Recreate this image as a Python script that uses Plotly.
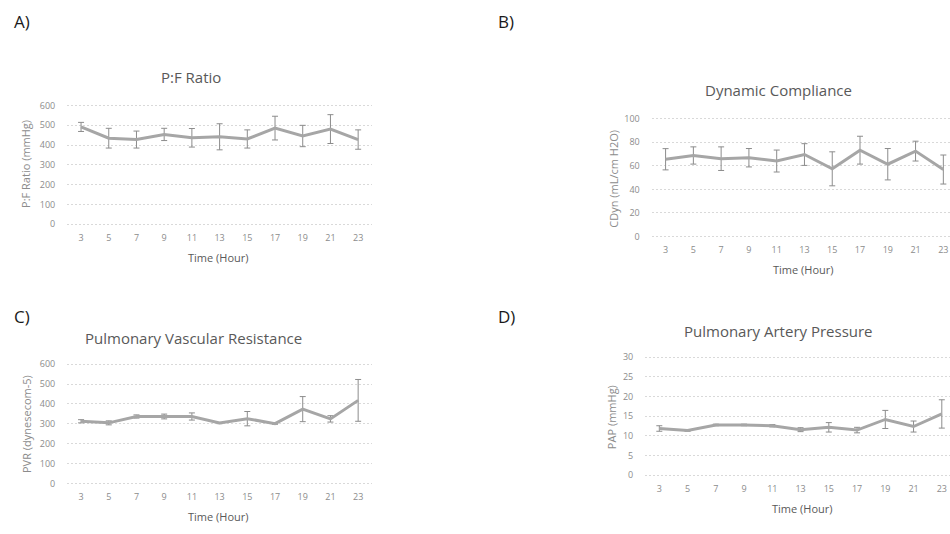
import plotly.graph_objects as go

W, H = 950, 534

hours = ["3", "5", "7", "9", "11", "13", "15", "17", "19", "21", "23"]

pf_mean = [492, 435, 428, 454, 437, 442, 431, 486, 446, 481, 428]
pf_err = [23, 50, 43, 31, 47, 66, 46, 60, 54, 73, 49]

cdyn_mean = [65.5, 68.7, 66.0, 66.8, 64.0, 69.5, 57.4, 73.2, 61.3, 72.4, 56.8]
cdyn_err = [9.0, 7.3, 10.0, 7.8, 9.3, 9.2, 14.4, 11.8, 13.3, 8.4, 12.3]

pvr_mean = [313, 305, 337, 337, 337, 304, 326, 301, 374, 325, 418]
pvr_err = [8, 10, 8, 12, 18, 3, 36, 3, 63, 16, 105]

pap_mean = [11.9, 11.4, 12.8, 12.8, 12.6, 11.6, 12.2, 11.5, 14.2, 12.4, 15.6]
pap_err = [0.7, 0.2, 0.2, 0.2, 0.3, 0.5, 1.2, 0.7, 2.3, 1.4, 3.6]

titles = ["P:F Ratio", "Dynamic Compliance", "Pulmonary Vascular Resistance", "Pulmonary Artery Pressure"]
ytitles = ["P:F Ratio (mmHg)", "CDyn (mL/cm H2O)", "PVR (dynesecom-5)", "PAP (mmHg)"]
xtitle = "Time (Hour)"
panel_labels = ["A)", "B)", "C)", "D)"]

FONT = "Open Sans"
LINE_C = "#a6a6a6"
ERR_C = "#8c8c8c"
GRID_C = "#d9d9d9"
TICK_C = "#8c8c8c"
TITLE_C = "#595959"

# panel geometry in pixels: (left, right, top, bottom, xrange_end, ymax, dtick)
panels = [
    (67.2, 372.0, 102.5, 223.3, 10.5, 600, 100),
    (651.7, 950.0, 115.7, 236.0, 10.24, 100, 20),
    (67.2, 372.0, 366.0, 487.7, 10.5, 600, 100),
    (645.2, 950.0, 359.0, 479.3, 10.29, 30, 5),
]
means = [pf_mean, cdyn_mean, pvr_mean, pap_mean]
errs = [pf_err, cdyn_err, pvr_err, pap_err]

# text positions in pixels
title_pos = [(191, 73), (778, 87), (193, 339), (778, 332)]
ytitle_pos = [(26, 162), (614, 177), (26, 427), (611, 420)]
xtitle_pos = [(218, 257.5), (803, 270), (218, 521.5), (802, 513.5)]
label_pos = [(22, 17), (506, 17), (22, 317), (506, 317)]

fig = go.Figure()
annotations = []

def px(x):
    return x / W

def py(y):
    return 1 - y / H

EXT = 0.012  # small range extension so the end gridlines are drawn

for i in range(4):
    l, r, t, b, xend, ymax, dt = panels[i]
    ext_px = EXT * (b - t)
    xa = "x" if i == 0 else f"x{i+1}"
    ya = "y" if i == 0 else f"y{i+1}"
    fig.add_trace(go.Scatter(
        x=hours, y=means[i], mode="lines",
        line=dict(color=LINE_C, width=3),
        error_y=dict(type="data", array=errs[i], visible=True, color=ERR_C, thickness=1, width=3),
        xaxis=xa, yaxis=ya, showlegend=False, hoverinfo="skip",
    ))
    xkey = "xaxis" if i == 0 else f"xaxis{i+1}"
    ykey = "yaxis" if i == 0 else f"yaxis{i+1}"
    fig.layout[xkey] = dict(
        domain=[px(l), min(1.0, px(r))], anchor=ya, type="category",
        range=[-0.5, xend], showgrid=False, zeroline=False, showline=False,
        ticks="", tickfont=dict(family=FONT, size=9, color=TICK_C),
        ticklabelstandoff=5, ticklabeloverflow="allow", fixedrange=True,
    )
    fig.layout[ykey] = dict(
        domain=[py(b + ext_px), py(t - ext_px)], anchor=xa,
        range=[-EXT * ymax, (1 + EXT) * ymax], dtick=dt, tick0=0,
        showgrid=True, gridcolor=GRID_C, griddash="2px,2px", gridwidth=1,
        zeroline=False, showline=False, ticks="",
        tickfont=dict(family=FONT, size=9, color=TICK_C),
        ticklabelstandoff=11, fixedrange=True,
    )
    annotations.append(dict(
        text=titles[i], x=px(title_pos[i][0]), y=py(title_pos[i][1]),
        xref="paper", yref="paper", showarrow=False, xanchor="center", yanchor="middle",
        font=dict(family=FONT, size=15, color=TITLE_C)))
    annotations.append(dict(
        text=ytitles[i], x=px(ytitle_pos[i][0]), y=py(ytitle_pos[i][1]),
        xref="paper", yref="paper", showarrow=False, xanchor="center", yanchor="middle",
        textangle=-90, font=dict(family=FONT, size=11, color=TICK_C)))
    annotations.append(dict(
        text=xtitle, x=px(xtitle_pos[i][0]), y=py(xtitle_pos[i][1]),
        xref="paper", yref="paper", showarrow=False, xanchor="center", yanchor="middle",
        font=dict(family=FONT, size=11, color=TITLE_C)))
    annotations.append(dict(
        text=panel_labels[i], x=px(label_pos[i][0]), y=py(label_pos[i][1]),
        xref="paper", yref="paper", showarrow=False, xanchor="center", yanchor="middle",
        font=dict(family=FONT, size=17, color="#1a1a1a")))

fig.update_layout(
    width=W, height=H, margin=dict(l=0, r=0, t=0, b=0),
    paper_bgcolor="white", plot_bgcolor="white",
    annotations=annotations, showlegend=False,
)

fig.write_html(
    "out.html",
    config={"displayModeBar": False},
    post_script="document.body.style.margin='0';document.body.style.overflow='hidden';",
)
